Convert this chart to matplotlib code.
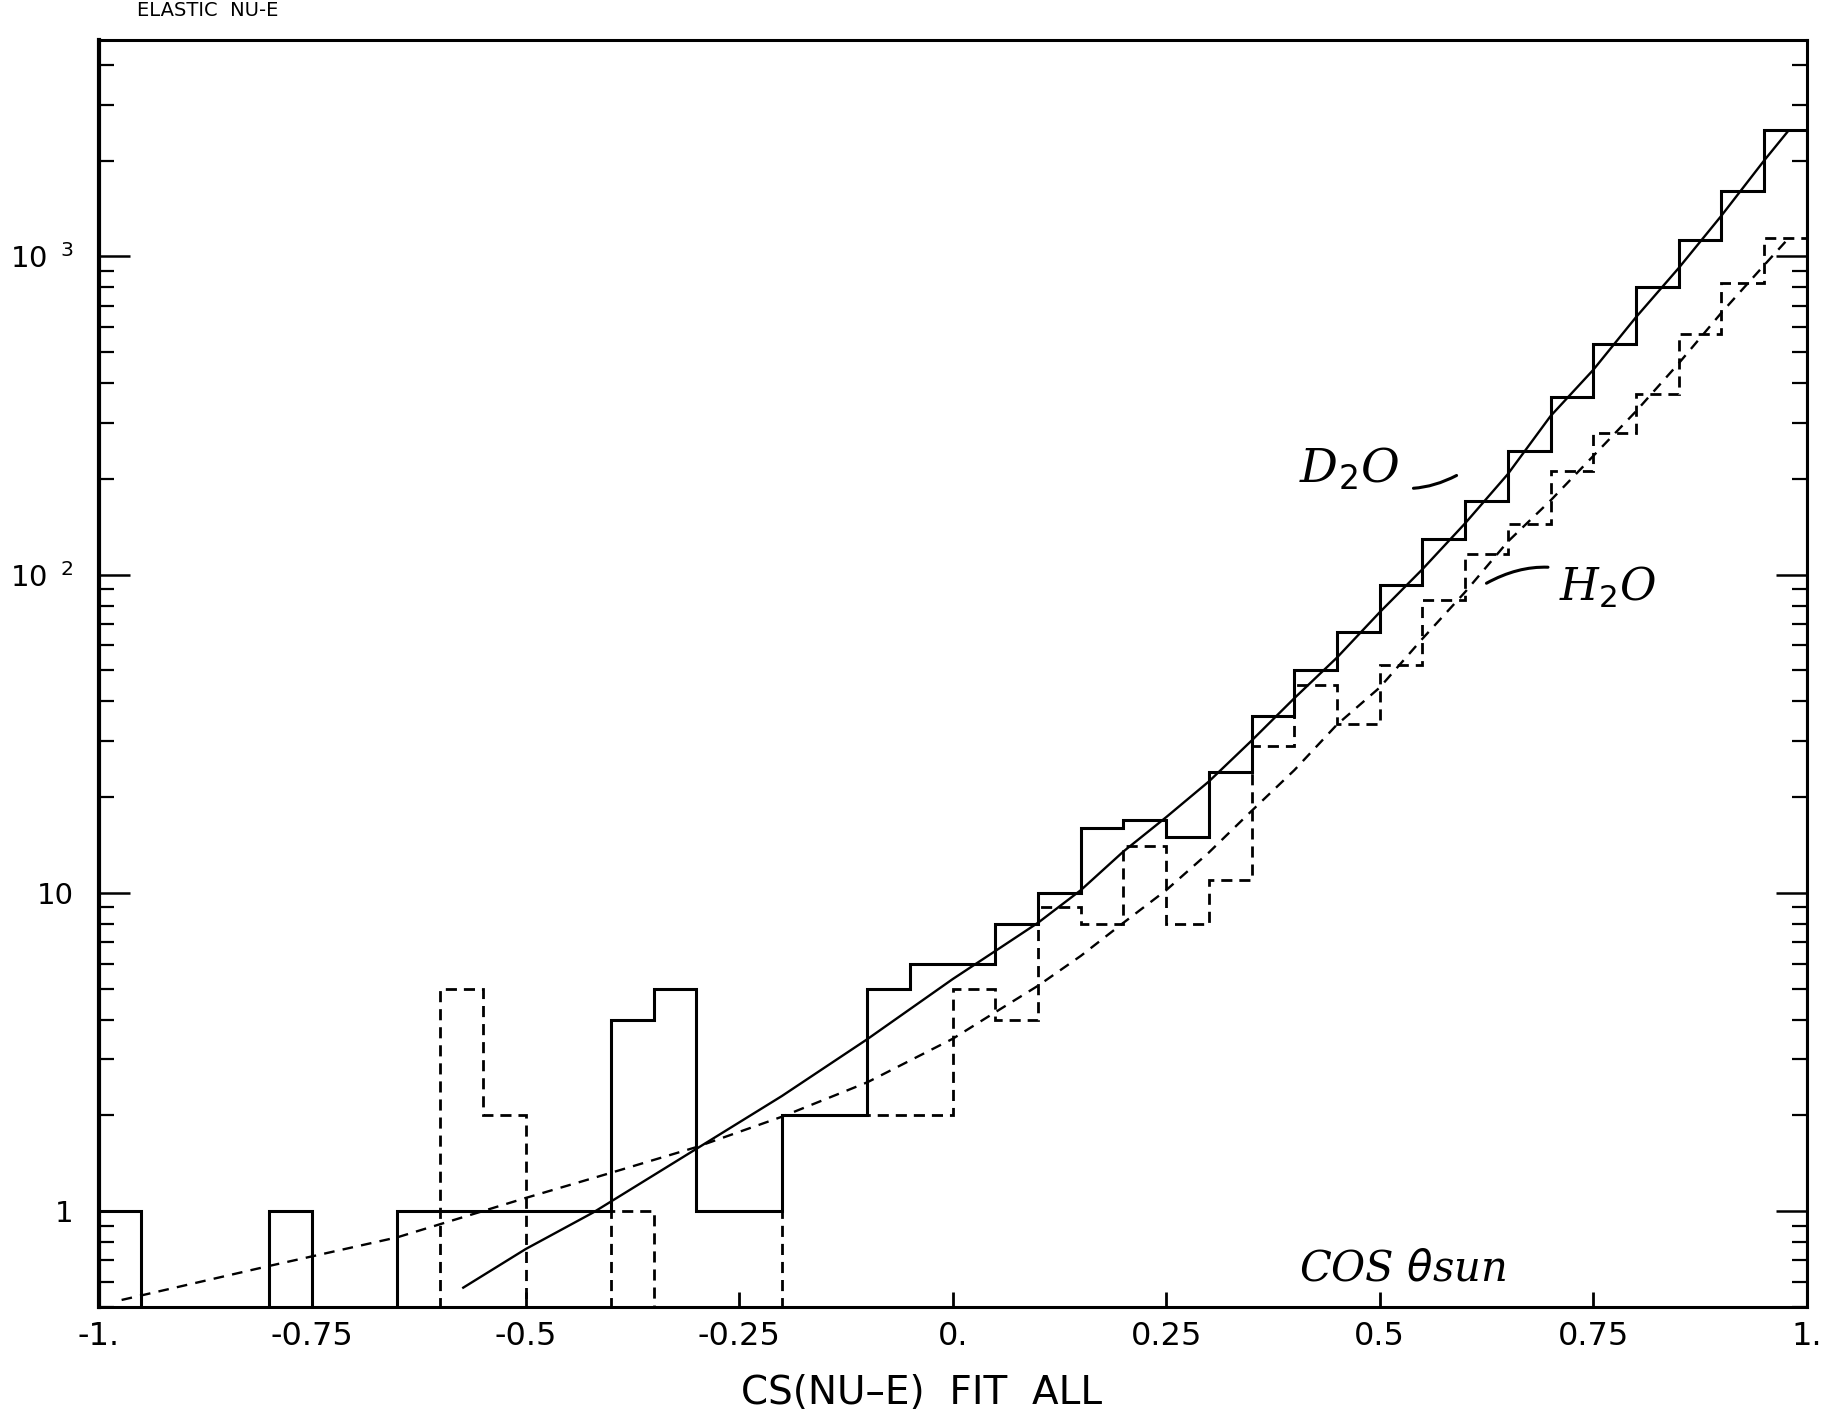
import numpy as np
import matplotlib
matplotlib.use('Agg')
import matplotlib.pyplot as plt
from matplotlib import font_manager
from matplotlib.ticker import FixedLocator, LogLocator, NullFormatter

# bins of cos(theta_sun): 40 bins, width 0.05
cos_edges = np.round(np.arange(-1.0, 1.0001, 0.05), 2)

# D2O counts (solid histogram)
d2o_counts = [1, 0, 0, 0, 1, 0, 0, 1, 1, 1,
              1, 1, 4, 5, 1, 1, 2, 2, 5, 6,
              6, 8, 10, 16, 17, 15, 24, 36, 50, 66,
              93, 129, 170, 244, 362, 532, 802, 1125, 1611, 2489]

# H2O counts (dashed histogram)
h2o_counts = [0, 0, 0, 0, 0, 0, 0, 0, 5, 2,
              0, 0, 1, 0, 0, 0, 2, 2, 2, 2,
              5, 4, 9, 8, 14, 8, 11, 29, 45, 34,
              52, 83, 116, 144, 211, 278, 370, 570, 827, 1139]

# fit curves
d2o_fit_x = [-0.573, -0.5, -0.421, -0.3, -0.2, -0.1, 0.0, 0.05, 0.1, 0.15,
             0.2, 0.25, 0.3, 0.35, 0.4, 0.45, 0.5, 0.55, 0.6, 0.65,
             0.7, 0.75, 0.8, 0.85, 0.9, 0.95, 0.977]
d2o_fit_y = [0.575, 0.76, 0.99, 1.57, 2.3, 3.47, 5.36, 6.57, 8.06, 10.2,
             13.5, 17.3, 22.4, 30.1, 40.9, 54.9, 76.2, 104, 145, 207,
             315, 440, 644, 919, 1342, 2000, 2455]

h2o_fit_x = [-0.973, -0.8, -0.65, -0.5, -0.4, -0.3, -0.2, -0.1, 0.0, 0.05,
             0.1, 0.15, 0.2, 0.25, 0.3, 0.35, 0.4, 0.45, 0.5, 0.55,
             0.6, 0.65, 0.7, 0.75, 0.8, 0.85, 0.9, 0.95, 0.98]
h2o_fit_y = [0.526, 0.673, 0.828, 1.10, 1.32, 1.59, 1.98, 2.54, 3.48, 4.22,
             5.11, 6.34, 8.06, 10.2, 13.4, 18.1, 24.3, 33.8, 44.2, 62.9,
             88.2, 127, 171, 236, 326, 461, 665, 938, 1150]

x_ticks = [-1, -0.75, -0.5, -0.25, 0, 0.25, 0.5, 0.75, 1]
x_ticklabels = ['-1.', '-0.75', '-0.5', '-0.25', '0.', '0.25', '0.5', '0.75', '1.']
y_ticks = [1, 10, 100, 1000]
y_ticklabels = ['1', '10', r'10$^{\ \ 2}$', r'10$^{\ \ 3}$']

names = {f.name for f in font_manager.fontManager.ttflist}
narrow = 'Liberation Sans Narrow' if 'Liberation Sans Narrow' in names else 'DejaVu Sans'

fig = plt.figure(figsize=(18.25, 14.16), dpi=100)
ax = fig.add_axes([0.054, 0.077, 0.936, 0.895])

# zero bins drawn below the axis so the outline runs along the bottom
d2o_plot = np.where(np.array(d2o_counts) > 0, d2o_counts, 1e-3)
h2o_plot = np.where(np.array(h2o_counts) > 0, h2o_counts, 1e-3)

ax.stairs(d2o_plot, cos_edges, color='black', linewidth=2.2)
ax.stairs(h2o_plot, cos_edges, color='black', linewidth=2.0,
          linestyle=(0, (4, 2.5)))
ax.plot(d2o_fit_x, d2o_fit_y, color='black', linewidth=1.7)
ax.plot(h2o_fit_x, h2o_fit_y, color='black', linewidth=1.7,
        linestyle=(0, (4.5, 3.5)))

ax.set_yscale('log')
ax.set_xlim(-1, 1)
ax.set_ylim(0.5, 4800)

ax.xaxis.set_major_locator(FixedLocator(x_ticks))
ax.set_xticklabels(x_ticklabels, fontsize=23, family=narrow)
ax.tick_params(axis='x', which='major', direction='in', length=11, width=2,
               pad=10, top=False, bottom=True)
ax.tick_params(axis='x', which='minor', bottom=False, top=False)

ax.yaxis.set_major_locator(FixedLocator(y_ticks))
ax.yaxis.set_minor_locator(LogLocator(base=10, subs=np.arange(2, 10)))
ax.yaxis.set_minor_formatter(NullFormatter())
ax.set_yticklabels(y_ticklabels, fontsize=21)
ax.tick_params(axis='y', which='major', direction='in', length=22, width=1.8,
               pad=18, left=True, right=True)
ax.tick_params(axis='y', which='minor', direction='in', length=11, width=1.6,
               left=True, right=True)

for s in ax.spines.values():
    s.set_linewidth(2.2)
ax.spines['left'].set_linewidth(3)

fig.text(0.505, 0.016, 'CS(NU\u2013E)  FIT  ALL', ha='center', va='center',
         fontsize=28, family=narrow)
fig.text(0.075, 0.999, 'ELASTIC  NU-E', ha='left', va='top',
         fontsize=14, family=narrow)

# handwritten annotations
hand = dict(family='DejaVu Serif', style='italic', color='black')
ax.annotate('D$_2$O', xy=(0.59, 205), xytext=(0.405, 215),
            fontsize=34, va='center', ha='left',
            arrowprops=dict(arrowstyle='-', color='black', lw=2.2,
                            shrinkA=8, shrinkB=0,
                            connectionstyle='arc3,rad=0.3'), **hand)
ax.annotate('H$_2$O', xy=(0.625, 94), xytext=(0.71, 91),
            fontsize=32, va='center', ha='left',
            arrowprops=dict(arrowstyle='-', color='black', lw=2.2,
                            shrinkA=6, shrinkB=0,
                            connectionstyle='arc3,rad=0.3'), **hand)
ax.text(0.405, 0.66, r'COS $\theta$sun', fontsize=30, va='center',
        ha='left', **hand)

fig.savefig('out.png', dpi=100, facecolor='white')
